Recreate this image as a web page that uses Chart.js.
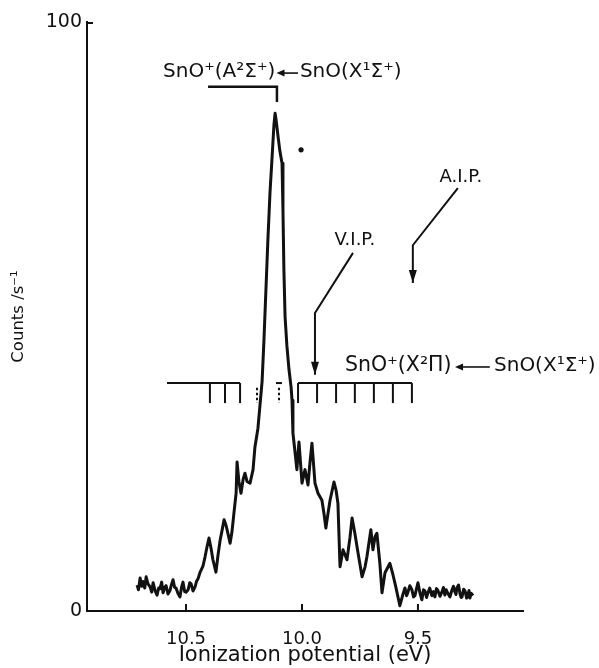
<!DOCTYPE html>
<html>
<head>
<meta charset="utf-8">
<script src="https://cdn.jsdelivr.net/npm/chart.js@4.4.1/dist/chart.umd.min.js"></script>
<style>
  html, body { margin: 0; padding: 0; background: #ffffff; }
  canvas { display: block; }
</style>
</head>
<body>
<canvas id="c" width="599" height="668"></canvas>
<script>
// ---------- data ----------
const ipEnergy = [
  10.711, 10.705, 10.698, 10.691, 10.685, 10.678, 10.672, 10.664, 10.655, 10.648,
  10.642, 10.633, 10.625, 10.618, 10.612, 10.605, 10.599, 10.592, 10.586, 10.578,
  10.569, 10.562, 10.556, 10.549, 10.543, 10.535, 10.526, 10.519, 10.513, 10.506,
  10.500, 10.491, 10.484, 10.478, 10.470, 10.461, 10.455, 10.448,
  10.440, 10.427, 10.418, 10.409, 10.401, 10.392, 10.384, 10.371, 10.362, 10.353,
  10.345, 10.336, 10.328, 10.323, 10.310, 10.302, 10.293, 10.284, 10.280, 10.272,
  10.263, 10.254, 10.246, 10.237, 10.224, 10.211, 10.203, 10.190, 10.181, 10.172,
  10.164, 10.155, 10.147, 10.138, 10.129, 10.121, 10.116, 10.112, 10.103, 10.095,
  10.086, 10.082, 10.078, 10.073, 10.065, 10.056, 10.047, 10.043, 10.039, 10.030,
  10.022, 10.013, 10.000, 9.987, 9.974, 9.966, 9.957, 9.944, 9.931, 9.914,
  9.905, 9.897, 9.888, 9.879, 9.862, 9.853, 9.845, 9.836, 9.823, 9.806,
  9.793, 9.784, 9.772, 9.759, 9.741, 9.728, 9.720, 9.703, 9.694, 9.685,
  9.677, 9.664, 9.655, 9.642, 9.621, 9.608, 9.595, 9.578, 9.565, 9.556,
  9.549, 9.543, 9.535, 9.526, 9.519, 9.513, 9.506, 9.500, 9.491, 9.483, 9.476, 9.470,
  9.463, 9.457, 9.449, 9.440, 9.433, 9.427, 9.420, 9.414, 9.405, 9.397, 9.390, 9.384,
  9.378, 9.371, 9.362, 9.353, 9.347, 9.341, 9.336, 9.332, 9.325, 9.319, 9.314, 9.310,
  9.303, 9.297, 9.290, 9.284, 9.280, 9.276, 9.270, 9.263
];
const counts = [
  4.4, 3.6, 5.6, 4.2, 5.0, 3.9, 5.8, 4.6, 4.1, 3.2,
  4.8, 3.4, 2.7, 3.9, 3.8, 4.9, 3.1, 4.0, 4.3, 2.9,
  3.5, 4.6, 5.3, 4.0, 3.9, 3.0, 2.4, 4.1, 4.9, 3.3,
  3.2, 3.6, 4.8, 4.6, 3.4, 4.1, 5.0, 5.5,
  6.5, 7.6, 9.2, 11.0, 12.4, 10.6, 8.7, 6.6, 9.5, 12.0,
  13.6, 15.5, 14.6, 13.8, 11.5, 13.4, 16.8, 20.0, 25.3, 22.0,
  20.0, 22.3, 23.4, 22.0, 21.7, 24.0, 27.8, 31.0, 35.0, 39.0,
  46.0, 55.0, 63.0, 71.0, 77.0, 82.5, 84.5, 83.5, 80.5, 78.0,
  76.0, 68.0, 58.0, 50.0, 45.0, 41.0, 38.0, 35.8, 30.2, 27.0,
  24.0, 28.7, 21.7, 24.0, 21.4, 25.0, 28.5, 21.7, 20.0, 18.8,
  16.5, 14.1, 16.5, 18.8, 21.9, 20.5, 18.3, 7.5, 10.4, 8.7,
  12.5, 15.8, 13.2, 10.0, 5.8, 7.5, 9.2, 13.8, 10.4, 12.6,
  13.2, 8.0, 3.1, 6.5, 8.1, 6.2, 4.0, 0.9, 2.8, 3.9,
  2.6, 3.2, 4.3, 3.6, 2.4, 2.6, 3.8, 4.8, 3.0, 1.9, 3.6, 3.4,
  2.3, 3.1, 3.9, 2.6, 3.3, 2.4, 3.8, 3.5, 2.5, 3.2, 4.0, 2.7,
  3.6, 3.0, 2.4, 3.6, 4.2, 3.3, 2.8, 3.9, 4.4, 3.0, 2.3, 2.4,
  3.7, 3.4, 2.2, 3.1, 3.5, 2.2, 3.0, 2.6
];
const strayDot = [10.004, 78.3];

const xTickValues = [10.5, 10.0, 9.5];
const yTickValues = [0, 100];
const xRange = [9.047, 10.927];
const yRange = [0, 100];

// vibrational progression of SnO+(X2Pi) <- SnO(X1Sigma+)
const progLevel = 38.7;
const progTickEnd = 35.3;
const progSegments = [[10.582, 10.267], [10.017, 9.526]];
const progTicks = [10.397, 10.332, 10.267, 10.017, 9.935, 9.853, 9.772, 9.690, 9.608, 9.526];
const progDotted = [10.194, 10.099];

// bracket for SnO+(A2Sigma+) <- SnO(X1Sigma+)
const bracketPath = [[10.405, 89.0], [10.108, 89.0], [10.108, 86.4]];
// pointer arrows
const vipPath = [[9.780, 60.8], [9.944, 50.6], [9.944, 40.1]];
const aipPath = [[9.328, 71.8], [9.522, 62.1], [9.522, 55.7]];
// small arrows inside the transition labels: [tail energy, tip energy, counts]
const textArrows = [[10.017, 10.110, 91.5], [9.190, 9.340, 41.6]];

// text pieces
const labelTexts = ['SnO⁺(A²Σ⁺)', 'SnO(X¹Σ⁺)', 'SnO⁺(X²Π)', 'SnO(X¹Σ⁺)', 'A.I.P.', 'V.I.P.'];
const labelPos = [[10.599, 91.5], [10.009, 91.5], [9.815, 41.6], [9.172, 41.6], [9.315, 73.7], [9.772, 63.0]];
const labelAlign = ['left', 'left', 'left', 'left', 'center', 'center'];
const labelSize = [20, 20, 20.5, 20, 18, 18];

const xTitle = 'Ionization potential (eV)';
const yTitle = 'Counts /s⁻¹';

// ---------- styling ----------
const INK = '#111111';
const FONT = '"DejaVu Sans", "Liberation Sans", sans-serif';

function arrowHead(ctx, tx, ty, fx, fy, L, W) {
  const ang = Math.atan2(ty - fy, tx - fx);
  ctx.beginPath();
  ctx.moveTo(tx, ty);
  ctx.lineTo(tx - L * Math.cos(ang) + W * Math.sin(ang), ty - L * Math.sin(ang) - W * Math.cos(ang));
  ctx.lineTo(tx - L * Math.cos(ang) - W * Math.sin(ang), ty - L * Math.sin(ang) + W * Math.cos(ang));
  ctx.closePath();
  ctx.fill();
}

const annotPlugin = {
  id: 'annot',
  afterDatasetsDraw(chart) {
    const { ctx, scales: { x, y } } = chart;
    const X = v => x.getPixelForValue(v);
    const Y = v => y.getPixelForValue(v);
    ctx.save();
    ctx.strokeStyle = INK;
    ctx.fillStyle = INK;
    ctx.lineCap = 'butt';

    const path = (pts, w) => {
      ctx.lineWidth = w;
      ctx.beginPath();
      pts.forEach((p, i) => i ? ctx.lineTo(X(p[0]), Y(p[1])) : ctx.moveTo(X(p[0]), Y(p[1])));
      ctx.stroke();
    };

    // inward axis tick marks
    ctx.lineWidth = 2;
    x.ticks.forEach(t => {
      ctx.beginPath();
      ctx.moveTo(X(t.value), Y(yRange[0]));
      ctx.lineTo(X(t.value), Y(yRange[0]) - 7);
      ctx.stroke();
    });
    y.ticks.forEach(t => {
      if (t.value === yRange[0]) return;
      ctx.beginPath();
      ctx.moveTo(X(xRange[1]), Y(t.value) + 1);
      ctx.lineTo(X(xRange[1]) + 6, Y(t.value) + 1);
      ctx.stroke();
    });

    // progression
    progSegments.forEach(s => path([[s[0], progLevel], [s[1], progLevel]], 2));
    progTicks.forEach(v => path([[v, progLevel], [v, progTickEnd]], 2));
    ctx.setLineDash([2.5, 2.5]);
    progDotted.forEach(v => path([[v, progLevel - 0.8], [v, progTickEnd]], 2));
    ctx.setLineDash([]);
    ctx.lineWidth = 2;
    ctx.beginPath();
    ctx.moveTo(X(progDotted[1]) - 3, Y(progLevel));
    ctx.lineTo(X(progDotted[1]) + 3, Y(progLevel));
    ctx.stroke();

    // bracket
    path(bracketPath, 2.5);

    // pointer arrows with heads
    [vipPath, aipPath].forEach(p => {
      path(p, 2);
      const a = p[p.length - 1], b = p[p.length - 2];
      arrowHead(ctx, X(a[0]), Y(a[1]), X(b[0]), Y(b[1]), 13, 4);
    });

    // arrows inside the transition labels
    textArrows.forEach(a => {
      const tail = X(a[0]), tip = X(a[1]), yy = Y(a[2]) + 1;
      ctx.lineWidth = 1.6;
      ctx.beginPath();
      ctx.moveTo(tail, yy);
      ctx.lineTo(tip + 4, yy);
      ctx.stroke();
      arrowHead(ctx, tip, yy, tail, yy, 8, 3.5);
    });

    // labels
    ctx.textBaseline = 'middle';
    labelTexts.forEach((t, i) => {
      ctx.font = labelSize[i] + 'px ' + FONT;
      ctx.textAlign = labelAlign[i];
      ctx.fillText(t, X(labelPos[i][0]), Y(labelPos[i][1]));
    });
    ctx.restore();
  }
};

new Chart(document.getElementById('c'), {
  type: 'scatter',
  data: {
    datasets: [
      {
        data: ipEnergy.map((v, i) => ({ x: v, y: counts[i] })),
        showLine: true,
        borderColor: INK,
        borderWidth: 3,
        borderJoinStyle: 'round',
        pointRadius: 0,
        tension: 0,
        fill: false
      },
      {
        data: [{ x: strayDot[0], y: strayDot[1] }],
        pointRadius: 2.6,
        pointBackgroundColor: INK,
        pointBorderWidth: 0,
        showLine: false
      }
    ]
  },
  options: {
    responsive: false,
    animation: false,
    devicePixelRatio: 1,
    layout: { padding: { top: 22, right: 76, left: 0, bottom: 0 } },
    plugins: { legend: { display: false }, tooltip: { enabled: false } },
    scales: {
      x: {
        type: 'linear',
        reverse: true,
        min: xRange[0],
        max: xRange[1],
        afterBuildTicks: s => { s.ticks = xTickValues.map(v => ({ value: v })); },
        afterFit: s => { s.height = 57; },
        ticks: {
          callback: v => Number(v).toFixed(1),
          font: { family: FONT, size: 18 },
          color: INK,
          padding: 18,
          maxRotation: 0,
          autoSkip: false
        },
        grid: { display: false, drawTicks: false },
        border: { display: true, width: 2, color: INK },
        title: {
          display: true,
          text: xTitle,
          color: INK,
          font: { family: FONT, size: 21 },
          padding: { top: 0, bottom: 0 }
        }
      },
      y: {
        min: yRange[0],
        max: yRange[1],
        afterBuildTicks: s => { s.ticks = yTickValues.map(v => ({ value: v })); },
        afterFit: s => { s.width = 87; },
        ticks: {
          font: { family: FONT, size: 19 },
          color: INK,
          padding: 5,
          autoSkip: false
        },
        grid: { display: false, drawTicks: false },
        border: { display: true, width: 2, color: INK },
        title: {
          display: true,
          text: yTitle,
          color: INK,
          font: { family: FONT, size: 16.5 },
          padding: { top: 9, bottom: 0 }
        }
      }
    }
  },
  plugins: [annotPlugin]
});
</script>
</body>
</html>
